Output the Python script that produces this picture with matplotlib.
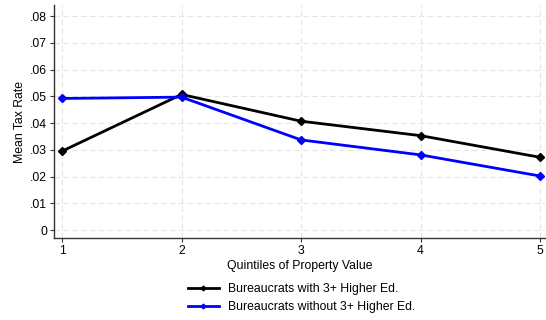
import matplotlib
matplotlib.use("Agg")
import matplotlib.pyplot as plt
from matplotlib.ticker import FuncFormatter

plt.rcParams['font.family'] = ['Liberation Sans', 'DejaVu Sans']

quintiles = [1, 2, 3, 4, 5]
with_ed = [0.0295, 0.0507, 0.0407, 0.0353, 0.0272]
without_ed = [0.0492, 0.0497, 0.0337, 0.0281, 0.0202]
labels = ["Bureaucrats with 3+ Higher Ed.", "Bureaucrats without 3+ Higher Ed."]
yticks = [0, 0.01, 0.02, 0.03, 0.04, 0.05, 0.06, 0.07, 0.08]

fig = plt.figure(figsize=(5.46, 3.2), dpi=100)
ax = fig.add_axes([0.099, 0.256, 0.899, 0.728])

ax.plot(quintiles, with_ed, color='black', lw=2.0, marker='D', ms=4, label=labels[0])
ax.plot(quintiles, without_ed, color='#0000ff', lw=2.0, marker='D', ms=4, label=labels[1])

ax.set_xlim(0.933, 5.04)
ax.set_ylim(-0.0030, 0.0841)
ax.set_xticks(quintiles)
ax.set_yticks(yticks)
ax.yaxis.set_major_formatter(FuncFormatter(lambda v, p: "0" if v == 0 else ("%.2f" % v).lstrip("0")))
ax.grid(True, color='#e6e6e6', ls=(0, (5, 3)), lw=0.8)
ax.set_axisbelow(True)
for s in ['top', 'right']:
    ax.spines[s].set_visible(False)
for s in ['left', 'bottom']:
    ax.spines[s].set_color('#333333')
    ax.spines[s].set_linewidth(1.0)
ax.tick_params(axis='both', labelsize=8.8, length=3, pad=2, color='#333333')
ax.set_xlabel("Quintiles of Property Value", fontsize=8.8)
ax.set_ylabel("Mean Tax Rate", fontsize=8.8)
ax.yaxis.set_label_coords(-0.058, 0.5)
ax.xaxis.set_label_coords(0.5, -0.094)

ax.legend(loc='center', bbox_to_anchor=(0.505, -0.258), frameon=False, fontsize=8.8,
          handlelength=2.5, handletextpad=0.8, markerscale=0.6, labelspacing=0.5)

fig.savefig("out.png", dpi=100)
